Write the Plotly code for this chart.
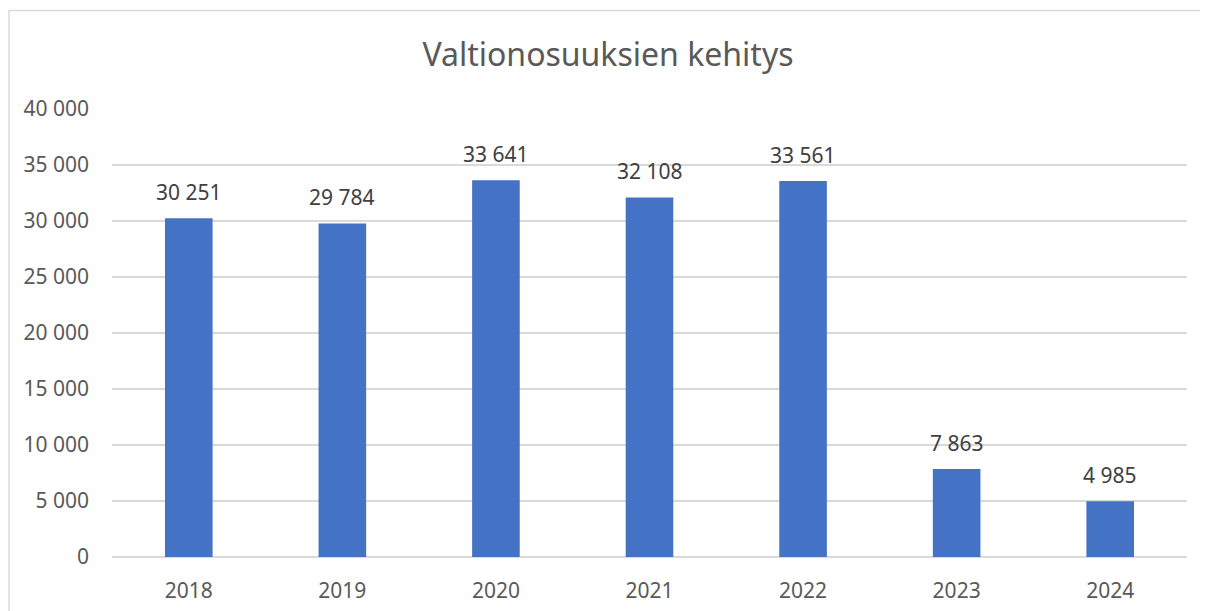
import plotly.graph_objects as go

years = ["2018", "2019", "2020", "2021", "2022", "2023", "2024"]
values = [30251, 29784, 33641, 32108, 33561, 7863, 4985]
y_ticks = [0, 5000, 10000, 15000, 20000, 25000, 30000, 35000, 40000]

OFF = 8  # default page body margin
W, H = 1208 - OFF, 611 - OFF
L, T = 112 - OFF, 109 - OFF
PW, PH = 1075, 448
R = W - L - PW
B = H - T - PH

labels = [f"{v:,}".replace(",", " ") for v in values]

fig = go.Figure(go.Bar(
    x=years, y=values,
    marker=dict(color="#4472C4", line=dict(width=0)),
    hoverinfo="skip",
))

# category axis: annotation x given as category index
for i, (yv, t) in enumerate(zip(values, labels)):
    fig.add_annotation(x=i, y=yv, text=t, showarrow=False,
                       xanchor="center", yanchor="bottom", yshift=10,
                       font=dict(family="Noto Sans", size=21, color="#404040"))

bx0 = (1.0 - L) / PW
by1 = (T + PH - (10.5 - OFF)) / PH

fig.update_layout(
    width=W, height=H,
    margin=dict(l=L, r=R, t=T, b=B, autoexpand=False),
    paper_bgcolor="white", plot_bgcolor="white",
    separators=", ",
    bargap=0.69,
    showlegend=False,
    font=dict(family="Noto Sans", color="#595959"),
    title=dict(text="Valtionosuuksien kehitys", x=0.5, xanchor="center",
               y=1 - (55 - OFF) / H, yanchor="middle",
               font=dict(family="Noto Sans", size=32, color="#595959")),
    xaxis=dict(type="category", range=[-0.5, len(years) - 0.5], automargin=False,
               showgrid=False, showline=False, ticks="", ticklen=0,
               tickfont=dict(size=21, color="#595959"), ticklabelstandoff=19),
    yaxis=dict(range=[0, 40000], tickvals=y_ticks, tickformat=",d", automargin=False,
               showgrid=True, gridcolor="#D9D9D9", gridwidth=1.5,
               zeroline=True, zerolinecolor="#D9D9D9", zerolinewidth=1.5,
               showline=False, ticks="",
               tickfont=dict(size=21, color="#595959"), ticklabelstandoff=22),
    shapes=[dict(type="path", xref="paper", yref="paper",
                 path=f"M {bx0} -0.5 L {bx0} {by1} L 1.5 {by1}",
                 line=dict(color="#D9D9D9", width=1.5), layer="below")],
)

fig.write_html("out.html", config={"displayModeBar": False})
